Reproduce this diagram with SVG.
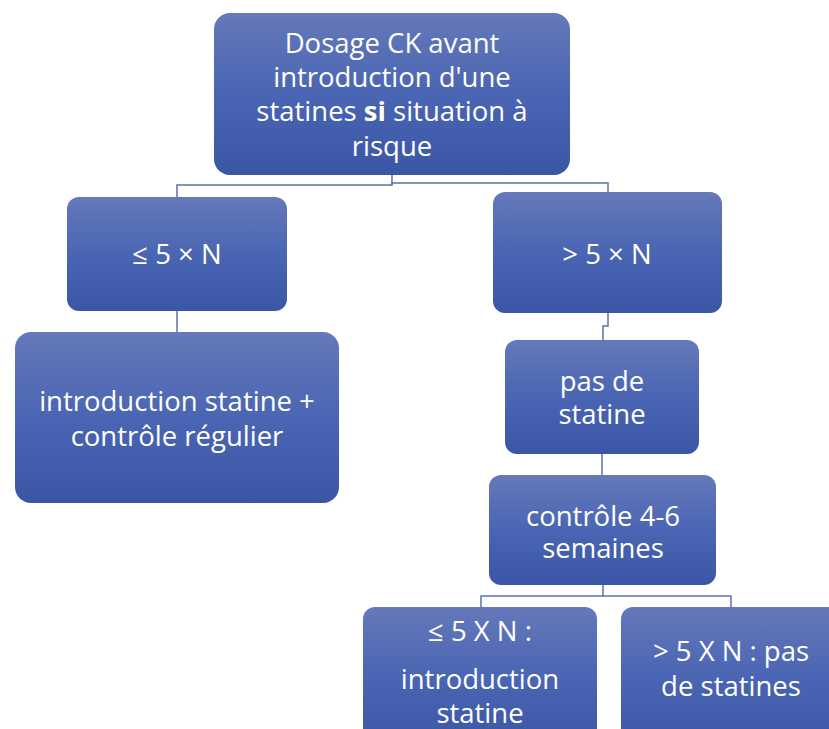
<svg xmlns="http://www.w3.org/2000/svg" width="829" height="729" viewBox="0 0 829 729">
<defs>
<linearGradient id="g" x1="0" y1="0" x2="0" y2="1">
<stop offset="0" stop-color="#6579ba"/>
<stop offset="0.5" stop-color="#4a65b3"/>
<stop offset="1" stop-color="#3a56a4"/>
</linearGradient>
</defs>
<style>
.box{fill:url(#g);}
.t{font-family:"Open Sans","Liberation Sans",sans-serif;font-size:27.5px;fill:#ffffff;text-anchor:middle;}
.c{fill:none;stroke:#5b72b1;stroke-width:1.5;}
</style>
<rect width="829" height="729" fill="#ffffff"/>
<g id="connectors">
<path class="c" d="M392,175 V185 H177 V197"/>
<path class="c" d="M392,185 V183 H608 V192"/>
<path class="c" d="M177,311 V332"/>
<path class="c" d="M608,313 V326 H603 V340"/>
<path class="c" d="M602,454 V475"/>
<path class="c" d="M603,585 V596 H481 V607"/>
<path class="c" d="M603,596 H731 V607"/>
</g>
<g id="n1">
<rect class="box" x="214" y="13" width="356" height="162" rx="16"/>
<text class="t" x="392" y="53">Dosage CK avant</text>
<text class="t" x="392" y="87">introduction d'une</text>
<text class="t" x="392" y="121">statines <tspan font-weight="bold">si</tspan> situation à</text>
<text class="t" x="392" y="156">risque</text>
</g>
<g id="n2">
<rect class="box" x="67" y="197" width="220" height="114" rx="12"/>
<text class="t" x="177" y="264">≤ 5 × N</text>
</g>
<g id="n3">
<rect class="box" x="493" y="192" width="229" height="121" rx="12"/>
<text class="t" x="607" y="264">&gt; 5 × N</text>
</g>
<g id="n4">
<rect class="box" x="15" y="332" width="324" height="171" rx="16"/>
<text class="t" x="177" y="411">introduction statine +</text>
<text class="t" x="177" y="446">contrôle régulier</text>
</g>
<g id="n5">
<rect class="box" x="505" y="340" width="194" height="114" rx="12"/>
<text class="t" x="602" y="391">pas de</text>
<text class="t" x="602" y="424">statine</text>
</g>
<g id="n6">
<rect class="box" x="489" y="475" width="227" height="110" rx="12"/>
<text class="t" x="603" y="526">contrôle 4-6</text>
<text class="t" x="603" y="558">semaines</text>
</g>
<g id="n7">
<rect class="box" x="363" y="607" width="234" height="140" rx="12"/>
<text class="t" x="480" y="641">≤ 5 X N :</text>
<text class="t" x="480" y="689">introduction</text>
<text class="t" x="480" y="723">statine</text>
</g>
<g id="n8">
<rect class="box" x="621" y="607" width="230" height="140" rx="12"/>
<text class="t" x="731" y="661">&gt; 5 X N : pas</text>
<text class="t" x="731" y="696">de statines</text>
</g>
</svg>
